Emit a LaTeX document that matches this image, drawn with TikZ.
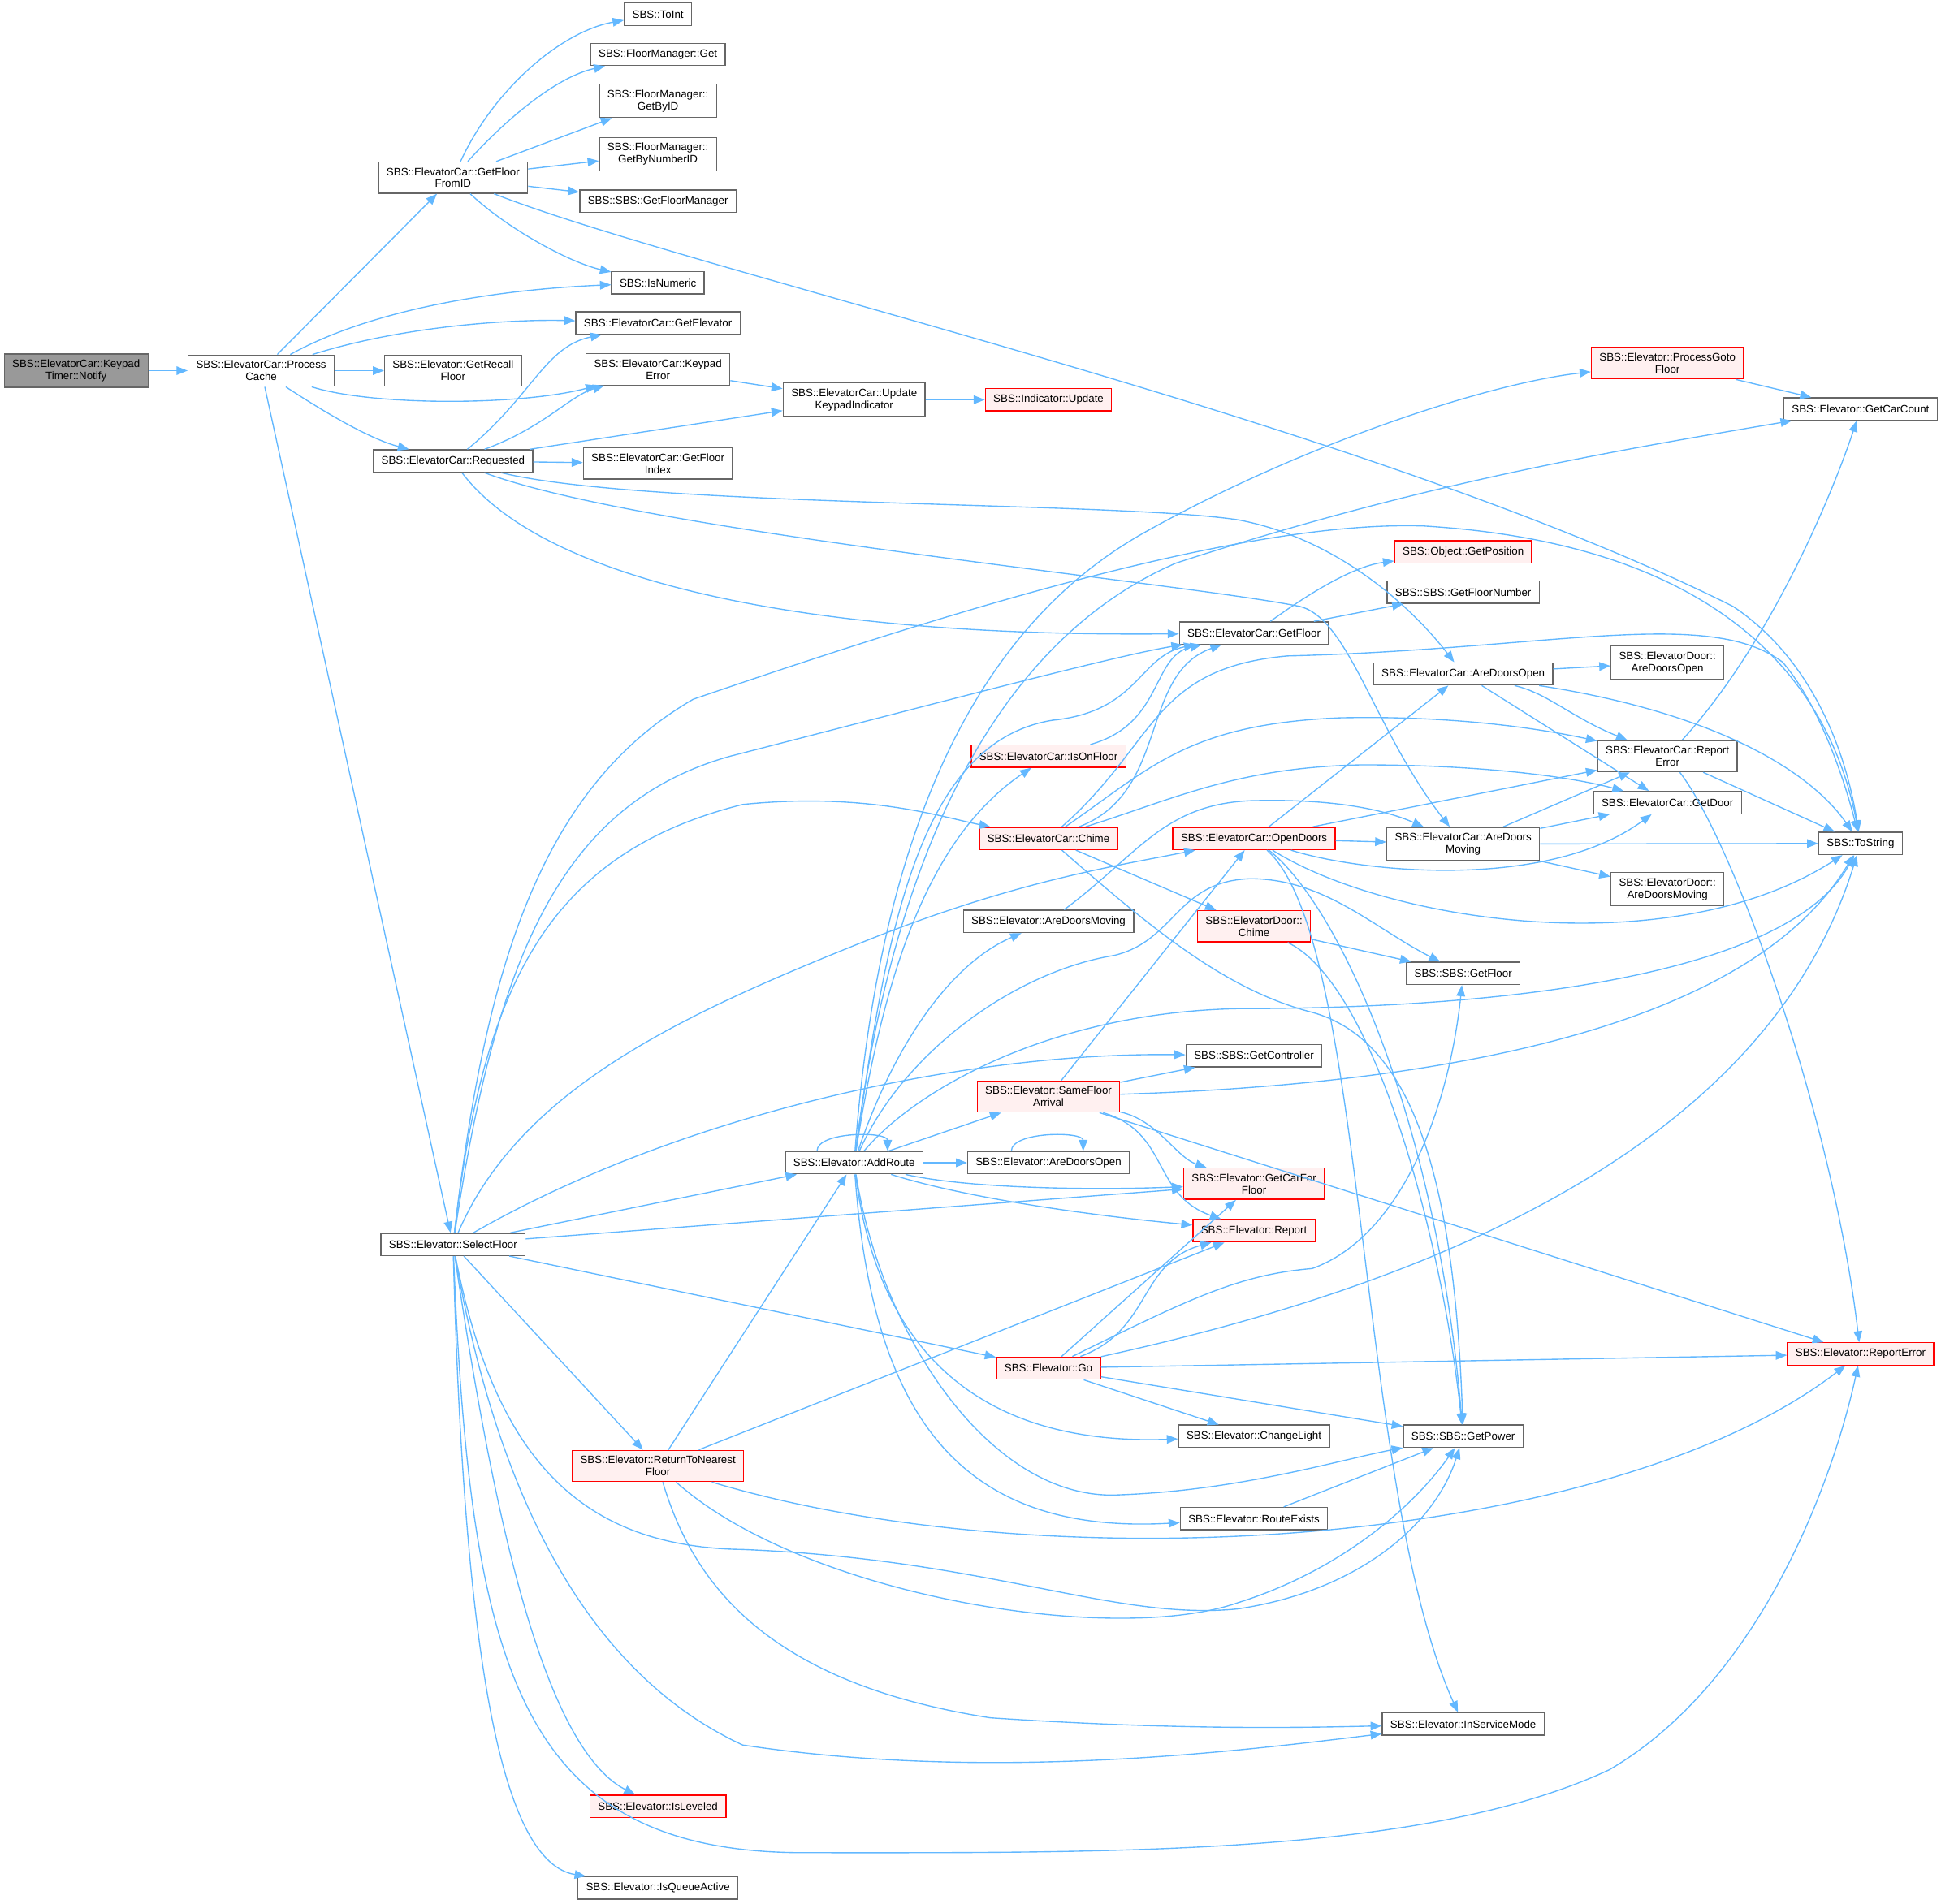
\documentclass[tikz,border=0pt]{standalone}
\usepackage{fontspec}
\newfontfamily\dxfont{Liberation Sans}
\usetikzlibrary{arrows.meta}
\definecolor{edgeblue}{HTML}{63B8FF}
\definecolor{boxgray}{HTML}{666666}
\definecolor{rootgray}{HTML}{999999}
\definecolor{redfill}{HTML}{FFF0F0}
\tikzset{
  fn/.style={draw=boxgray, fill=white, line width=0.9pt, align=center,
    font=\dxfont\fontsize{8.75}{9.8}\selectfont,
    inner xsep=6.5pt, inner ysep=4.5pt, minimum height=18pt},
  fnred/.style={fn, draw=red},
  fnred/.append style={fill=redfill},
  fnroot/.style={fn, fill=rootgray},
  call/.style={draw=edgeblue, line width=0.9pt, -{Triangle[length=9pt,width=7pt]}}
}
\begin{document}
\begin{tikzpicture}[x=1pt,y=-1pt]
\useasboundingbox (0,0) rectangle (1568,1538);

\node [fnroot] (notify) at (61.5,299.5) {SBS::ElevatorCar::Keypad\\Timer::Notify};
\node [fn] (pcache) at (211,299.5) {SBS::ElevatorCar::Process\\Cache};
\node [fn] (gffid) at (366,143.5) {SBS::ElevatorCar::GetFloor\\FromID};
\node [fn] (getrecall) at (366,299.5) {SBS::Elevator::GetRecall\\Floor};
\node [fn] (requested) at (366,372.5) {SBS::ElevatorCar::Requested};
\node [fn] (selectfloor) at (366,1005.5) {SBS::Elevator::SelectFloor};
\node [fn] (toint) at (531.5,11.5) {SBS::ToInt};
\node [fn] (fmget) at (531.5,44) {SBS::FloorManager::Get};
\node [fn] (fmgetbyid) at (531.5,81.5) {SBS::FloorManager::\\GetByID};
\node [fn] (fmgetbynum) at (531.5,124.5) {SBS::FloorManager::\\GetByNumberID};
\node [fn] (getfloormgr) at (531.5,162.5) {SBS::SBS::GetFloorManager};
\node [fn] (isnumeric) at (531.5,228.5) {SBS::IsNumeric};
\node [fn] (getelevator) at (531.5,261) {SBS::ElevatorCar::GetElevator};
\node [fn] (keypaderror) at (531.5,298.5) {SBS::ElevatorCar::Keypad\\Error};
\node [fn] (getfloorindex) at (531.5,374.5) {SBS::ElevatorCar::GetFloor\\Index};
\node [fnred] (rtnearest) at (531.5,1184.5) {SBS::Elevator::ReturnToNearest\\Floor};
\node [fnred] (isleveled) at (531.5,1459.5) {SBS::Elevator::IsLeveled};
\node [fn] (isqueue) at (531.5,1525.5) {SBS::Elevator::IsQueueActive};
\node [fn] (updatekp) at (690,323) {SBS::ElevatorCar::Update\\KeypadIndicator};
\node [fn] (addroute) at (690,939.5) {SBS::Elevator::AddRoute};
\node [fnred] (indupdate) at (847,323) {SBS::Indicator::Update};
\node [fnred] (isonfloor) at (847,611) {SBS::ElevatorCar::IsOnFloor};
\node [fnred] (chime) at (847,677.5) {SBS::ElevatorCar::Chime};
\node [fn] (elmoving) at (847,744.5) {SBS::Elevator::AreDoorsMoving};
\node [fnred] (samefloor) at (847,886) {SBS::Elevator::SameFloor\\Arrival};
\node [fn] (elopen) at (847,939.5) {SBS::Elevator::AreDoorsOpen};
\node [fnred] (go) at (847,1105.5) {SBS::Elevator::Go};
\node [fn] (ecgetfloor) at (1013,511.5) {SBS::ElevatorCar::GetFloor};
\node [fnred] (opendoors) at (1013,677.5) {SBS::ElevatorCar::OpenDoors};
\node [fnred] (edchime) at (1013,748.5) {SBS::ElevatorDoor::\\Chime};
\node [fn] (getctrl) at (1013,853) {SBS::SBS::GetController};
\node [fnred] (carforfloor) at (1013,956.5) {SBS::Elevator::GetCarFor\\Floor};
\node [fnred] (report) at (1013,994.5) {SBS::Elevator::Report};
\node [fn] (changelight) at (1013,1160.5) {SBS::Elevator::ChangeLight};
\node [fn] (routeexists) at (1013,1227) {SBS::Elevator::RouteExists};
\node [fnred] (getpos) at (1182,446) {SBS::Object::GetPosition};
\node [fn] (floornum) at (1182,478.5) {SBS::SBS::GetFloorNumber};
\node [fn] (ecopen) at (1182,544.5) {SBS::ElevatorCar::AreDoorsOpen};
\node [fn] (ecmoving) at (1182,682) {SBS::ElevatorCar::AreDoors\\Moving};
\node [fn] (sbsgetfloor) at (1182,786.5) {SBS::SBS::GetFloor};
\node [fn] (getpower) at (1182,1160.5) {SBS::SBS::GetPower};
\node [fn] (inservice) at (1182,1393) {SBS::Elevator::InServiceMode};
\node [fnred] (gotofloor) at (1347,293.5) {SBS::Elevator::ProcessGoto\\Floor};
\node [fn] (edopen) at (1347,535.5) {SBS::ElevatorDoor::\\AreDoorsOpen};
\node [fn] (ecreperr) at (1347,611) {SBS::ElevatorCar::Report\\Error};
\node [fn] (getdoor) at (1347,648.5) {SBS::ElevatorCar::GetDoor};
\node [fn] (edmoving) at (1347,718.5) {SBS::ElevatorDoor::\\AreDoorsMoving};
\node [fn] (carcount) at (1503,330.5) {SBS::Elevator::GetCarCount};
\node [fn] (tostring) at (1503,681.5) {SBS::ToString};
\node [fnred] (elreperr) at (1503,1094) {SBS::Elevator::ReportError};

\draw [call] (notify) to (pcache);
\draw [call] (pcache) to (gffid);
\draw [call] (pcache) .. controls (300,250) and (400,234) .. (isnumeric);
\draw [call] (pcache) .. controls (330,262) and (420,258) .. (getelevator);
\draw [call] (pcache) to (getrecall);
\draw [call] (pcache) .. controls (300,328) and (420,328) .. (keypaderror);
\draw [call] (pcache) .. controls (265,335) and (300,355) .. (requested);
\draw [call] (pcache) to (selectfloor);

\draw [call] (gffid) .. controls (400,70) and (455,25) .. (toint);
\draw [call] (gffid) .. controls (410,95) and (450,62) .. (fmget);
\draw [call] (gffid) to (fmgetbyid);
\draw [call] (gffid) to (fmgetbynum);
\draw [call] (gffid) to (getfloormgr);
\draw [call] (gffid) .. controls (410,185) and (460,212) .. (isnumeric);
\draw [call] (gffid) .. controls (560,220) and (1100,340) .. (1400,490) .. controls (1460,530) and (1490,600) .. (tostring);

\draw [call] (requested) .. controls (430,320) and (440,280) .. (getelevator);
\draw [call] (requested) .. controls (440,345) and (460,320) .. (keypaderror);
\draw [call] (requested) to (updatekp);
\draw [call] (requested) to (getfloorindex);
\draw [call] (requested) .. controls (520,410) and (900,405) .. (1000,420) .. controls (1080,435) and (1140,490) .. (ecopen);
\draw [call] (requested) .. controls (520,430) and (950,470) .. (1050,490) .. controls (1090,500) and (1110,590) .. (ecmoving);
\draw [call] (requested) .. controls (440,470) and (650,515) .. (ecgetfloor);
\draw [call] (keypaderror) to (updatekp);
\draw [call] (updatekp) to (indupdate);

\draw [call] (gotofloor) to (carcount);
\draw [call] (ecreperr) .. controls (1430,520) and (1480,400) .. (carcount);
\draw [call] (ecgetfloor) .. controls (1050,485) and (1090,458) .. (getpos);
\draw [call] (ecgetfloor) to (floornum);
\draw [call] (ecopen) to (edopen);
\draw [call] (ecopen) .. controls (1250,560) and (1270,580) .. (ecreperr);
\draw [call] (ecopen) to (getdoor);
\draw [call] (ecopen) .. controls (1380,575) and (1460,620) .. (tostring);
\draw [call] (ecreperr) to (tostring);
\draw [call] (ecreperr) .. controls (1400,680) and (1480,900) .. (elreperr);
\draw [call] (ecmoving) to (ecreperr);
\draw [call] (ecmoving) to (getdoor);
\draw [call] (ecmoving) to (tostring);
\draw [call] (ecmoving) to (edmoving);

\draw [call] (isonfloor) .. controls (940,585) and (930,530) .. (ecgetfloor);
\draw [call] (chime) .. controls (945,640) and (920,545) .. (ecgetfloor);
\draw [call] (chime) .. controls (935,600) and (930,540) .. (1040,530) .. controls (1250,525) and (1380,490) .. (1440,535) .. controls (1470,570) and (1490,630) .. (tostring);
\draw [call] (chime) .. controls (930,620) and (960,585) .. (1083,580) .. controls (1180,578) and (1250,590) .. (ecreperr);
\draw [call] (chime) .. controls (950,645) and (1000,620) .. (1100,618) .. controls (1200,618) and (1270,628) .. (getdoor);
\draw [call] (chime) to (edchime);
\draw [call] (chime) .. controls (930,750) and (990,800) .. (1060,818) .. controls (1140,840) and (1175,950) .. (getpower);
\draw [call] (opendoors) to (ecopen);
\draw [call] (opendoors) to (ecreperr);
\draw [call] (opendoors) to (ecmoving);
\draw [call] (opendoors) .. controls (1100,705) and (1250,720) .. (getdoor);
\draw [call] (opendoors) .. controls (1120,745) and (1350,780) .. (tostring);
\draw [call] (opendoors) .. controls (1080,730) and (1160,900) .. (getpower);
\draw [call] (opendoors) .. controls (1105,760) and (1095,1200) .. (inservice);
\draw [call] (elmoving) .. controls (920,690) and (940,650) .. (1010,647) .. controls (1080,645) and (1120,655) .. (ecmoving);
\draw [call] (edchime) to (sbsgetfloor);
\draw [call] (edchime) .. controls (1110,795) and (1165,1000) .. (getpower);

\draw [call] (samefloor) to (opendoors);
\draw [call] (samefloor) to (getctrl);
\draw [call] (samefloor) .. controls (1200,875) and (1420,820) .. (tostring);
\draw [call] (samefloor) .. controls (935,905) and (950,935) .. (carforfloor);
\draw [call] (samefloor) .. controls (945,915) and (930,965) .. (report);
\draw [call] (samefloor) to (elreperr);

\draw [call] ([xshift=-30pt]addroute.north) .. controls +(0,-16) and +(0,-16) .. ([xshift=27pt]addroute.north);
\draw [call] (addroute) .. controls (712,650) and (800,500) .. (925,430) .. controls (1050,360) and (1200,310) .. (gotofloor);
\draw [call] (addroute) .. controls (720,700) and (800,520) .. (950,455) .. controls (1150,390) and (1300,365) .. (carcount);
\draw [call] (addroute) .. controls (715,760) and (740,600) .. (850,582) .. controls (920,575) and (920,530) .. (ecgetfloor);
\draw [call] (addroute) .. controls (712,800) and (745,680) .. (isonfloor);
\draw [call] (addroute) .. controls (720,850) and (765,780) .. (elmoving);
\draw [call] (addroute) .. controls (730,850) and (820,785) .. (900,772) .. controls (950,760) and (950,712) .. (1010,710) .. controls (1070,710) and (1110,750) .. (sbsgetfloor);
\draw [call] (addroute) .. controls (740,880) and (850,818) .. (1000,815) .. controls (1250,815) and (1450,780) .. (tostring);
\draw [call] (addroute) to (samefloor);
\draw [call] (addroute) to (elopen);
\draw [call] (addroute) .. controls (780,960) and (880,962) .. (carforfloor);
\draw [call] (addroute) .. controls (780,968) and (880,982) .. (report);
\draw [call] (addroute) .. controls (710,1100) and (800,1168) .. (changelight);
\draw [call] (addroute) .. controls (712,1080) and (800,1210) .. (900,1208) .. controls (1000,1205) and (1080,1180) .. (getpower);
\draw [call] (addroute) .. controls (705,1150) and (780,1240) .. (routeexists);
\draw [call] ([xshift=-30pt]elopen.north) .. controls +(0,-16) and +(0,-16) .. ([xshift=28pt]elopen.north);

\draw [call] (go) to (carforfloor);
\draw [call] (go) .. controls (930,1075) and (920,1020) .. (report);
\draw [call] (go) .. controls (960,1050) and (1000,1030) .. (1060,1025) .. controls (1130,1000) and (1170,900) .. (sbsgetfloor);
\draw [call] (go) .. controls (1100,1050) and (1420,950) .. (tostring);
\draw [call] (go) to (elreperr);
\draw [call] (go) to (getpower);
\draw [call] (go) to (changelight);
\draw [call] (routeexists) to (getpower);

\draw [call] (rtnearest) to (addroute);
\draw [call] (rtnearest) to (report);
\draw [call] (rtnearest) .. controls (650,1290) and (900,1330) .. (1000,1295) .. controls (1080,1270) and (1140,1220) .. (getpower);
\draw [call] (rtnearest) .. controls (850,1280) and (1300,1250) .. (elreperr);
\draw [call] (rtnearest) .. controls (560,1280) and (620,1360) .. (800,1388) .. controls (950,1398) and (1050,1396) .. (inservice);

\draw [call] (selectfloor) .. controls (390,800) and (430,640) .. (560,565) .. controls (750,500) and (1000,420) .. (1150,425) .. controls (1400,440) and (1480,560) .. (tostring);
\draw [call] (selectfloor) .. controls (400,780) and (450,650) .. (590,611) .. controls (750,570) and (900,530) .. (ecgetfloor);
\draw [call] (selectfloor) .. controls (390,800) and (440,690) .. (600,650) .. controls (700,640) and (760,660) .. (chime);
\draw [call] (selectfloor) .. controls (420,880) and (550,820) .. (700,760) .. controls (820,712) and (900,700) .. (opendoors);
\draw [call] (selectfloor) .. controls (550,900) and (780,850) .. (getctrl);
\draw [call] (selectfloor) to (addroute);
\draw [call] (selectfloor) to (carforfloor);
\draw [call] (selectfloor) to (go);
\draw [call] (selectfloor) to (rtnearest);
\draw [call] (selectfloor) .. controls (400,1180) and (470,1250) .. (600,1252) .. controls (800,1260) and (900,1310) .. (1000,1300) .. controls (1100,1285) and (1160,1230) .. (getpower);
\draw [call] (selectfloor) .. controls (400,1200) and (470,1350) .. (600,1410) .. controls (800,1440) and (1000,1415) .. (inservice);
\draw [call] (selectfloor) .. controls (380,1350) and (420,1497) .. (650,1497) .. controls (900,1497) and (1150,1500) .. (1300,1430) .. controls (1420,1360) and (1480,1200) .. (elreperr);
\draw [call] (selectfloor) .. controls (395,1200) and (435,1410) .. (isleveled);
\draw [call] (selectfloor) .. controls (375,1340) and (405,1505) .. (isqueue);
\end{tikzpicture}
\end{document}
